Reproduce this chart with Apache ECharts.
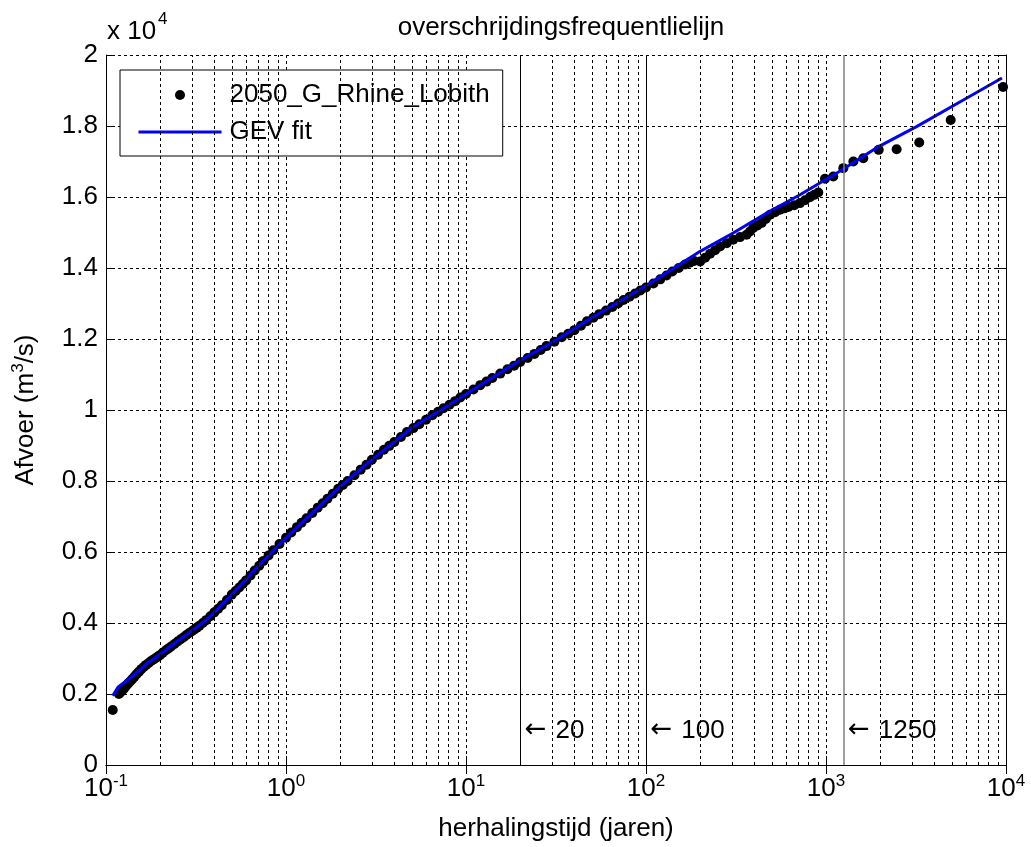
<!DOCTYPE html>
<html><head><meta charset="utf-8">
<script src="https://cdn.jsdelivr.net/npm/echarts@6/dist/echarts.min.js"></script>
<style>html,body{margin:0;padding:0;background:#fff}#c{width:1031px;height:847px}</style>
</head><body><div id="c"></div>
<script>
// ---- data ----
const obsT = [0.109,0.118,0.120,0.122,0.1245,0.127,0.130,0.133,0.1365,0.14,0.144,0.148,0.1525,0.157,0.162,0.167,0.1725,0.178,0.184,0.19,0.195,0.2,0.207,0.215,0.2225,0.23,0.24,0.25,0.26,0.27,0.28,0.29,0.30,0.31,0.32,0.33,0.345,0.36,0.38,0.4,0.42,0.44,0.47,0.5,0.525,0.55,0.575,0.6,0.635,0.67,0.71,0.75,0.80,0.85,0.92,1.0,1.07,1.15,1.22,1.3,1.4,1.5,1.6,1.7,1.82,1.95,2.07,2.2,2.4,2.6,2.8,3,3.25,3.5,3.75,4,4.35,4.7,5.1,5.5,6.0,6.5,7.0,7.5,8.1,8.7,9.3,10,11,12,13,14,15.5,17,18.5,20,22,24,26,28,31,34,37,40,43.5,47,51,55,60,65,70,75,81,87,93,100,110,120,130,140,152,165,175,185,200,213,227,242,258,281,305,333,362,378,394,416,439,463,489,521,555,586,618,666,717,765,815,860,906,987,1098,1248,1419,1612,1963,2468,3296,4929,9630];
const obsQ = [1550,2000,2040,2080,2130,2180,2240,2300,2360,2420,2490,2560,2630,2700,2760,2820,2875,2930,2975,3020,3060,3100,3165,3230,3285,3340,3410,3480,3540,3600,3660,3720,3770,3820,3870,3920,4000,4080,4190,4300,4400,4500,4650,4800,4900,5000,5100,5200,5340,5480,5615,5750,5900,6050,6225,6400,6550,6700,6825,6950,7100,7250,7375,7500,7640,7780,7890,8000,8160,8320,8460,8600,8740,8880,8990,9100,9240,9380,9490,9600,9725,9850,9950,10050,10150,10250,10350,10450,10575,10700,10800,10900,11025,11150,11250,11350,11465,11580,11690,11800,11925,12050,12150,12250,12375,12500,12600,12700,12800,12900,13000,13100,13190,13280,13365,13450,13565,13680,13790,13900,14000,14100,14150,14200,14185,14290,14402,14500,14608,14700,14796,14870,14937,15030,15125,15200,15266,15380,15500,15570,15640,15680,15716,15770,15828,15910,15997,16060,16128,16513,16578,16813,17000,17094,17328,17347,17533,18171,19100];
const fitT = [0.109,0.117,0.136,0.168,0.2,0.236,0.281,0.333,0.4,0.5,0.7,1,1.5,2,3,5,7.5,10,20,30,50,100,200,305,468,717,1250,1960,3183,5795,9500];
const fitQ = [1950,2200,2450,2850,3120,3400,3680,3950,4300,4800,5600,6400,7250,7850,8600,9500,10050,10450,11400,11900,12600,13500,14470,14985,15547,16062,16790,17420,17983,18734,19353];
const minorGrid = [0.2,0.3,0.4,0.5,0.6,0.7,0.8,0.9,2,3,4,5,6,7,8,9,20,30,40,50,60,70,80,90,200,300,400,500,600,700,800,900,2000,3000,4000,5000,6000,7000,8000,9000];
const refT = [20, 100, 1250];
const refLabels = ['20', '100', '1250'];
const refLabelQ = 965;
const seriesNames = ['2050_G_Rhine_Lobith', 'GEV fit'];

const FF = '"Liberation Sans", Arial, Helvetica, sans-serif';
const FS = 26;
const chart = echarts.init(document.getElementById('c'), null, {renderer: 'canvas'});
const supRich = {
  b: {fontSize: FS, fontFamily: FF, color: '#000'},
  s: {fontSize: 17, fontFamily: FF, color: '#000', verticalAlign: 'bottom', padding: [0, 0, 15, 0]}
};
const GRID_DASH = [3, 3];
const option = {
  animation: false,
  backgroundColor: '#fff',
  title: {
    text: 'overschrijdingsfrequentlielijn', left: 556, top: 10, textAlign: 'center',
    textStyle: {fontSize: FS, fontWeight: 'normal', color: '#000', fontFamily: FF}
  },
  legend: {
    orient: 'vertical', left: 120, top: 70, padding: [12, 13, 11, 17], itemGap: 11,
    itemWidth: 83, itemHeight: 10, borderColor: '#000', borderWidth: 1, backgroundColor: '#fff',
    borderRadius: 0,
    textStyle: {fontSize: FS, color: '#000', fontFamily: FF, padding: [0, 0, 0, 3]},
    data: [
      {name: seriesNames[0], icon: 'circle', itemStyle: {color: '#000', opacity: 1}},
      {name: seriesNames[1], itemStyle: {opacity: 0}, lineStyle: {width: 3, color: '#0000ff'}}
    ]
  },
  grid: {left: 106, right: 25, top: 55, bottom: 81},
  graphic: [
    {type: 'text', left: 107, top: 19, style: {text: 'x 10', fontSize: FS, fontFamily: FF, fill: '#000'}},
    {type: 'text', left: 158, top: 11, style: {text: '4', fontSize: 17, fontFamily: FF, fill: '#000'}}
  ],
  xAxis: [{
    type: 'log', logBase: 10, min: 0.1, max: 10000, position: 'bottom',
    axisLine: {lineStyle: {color: '#000', width: 1}},
    axisTick: {inside: true, length: 9, lineStyle: {color: '#000'}},
    axisLabel: {
      margin: 8,
      formatter: v => '{b|10}{s|' + Math.round(Math.log10(v)) + '}',
      rich: supRich
    },
    splitLine: {show: true, lineStyle: {type: GRID_DASH, color: '#000', width: 1}},
    name: 'herhalingstijd (jaren)', nameLocation: 'middle', nameGap: 51,
    nameTextStyle: {fontSize: FS, color: '#000', fontFamily: FF}
  }, {
    type: 'log', logBase: 10, min: 0.1, max: 10000, position: 'top',
    axisLine: {lineStyle: {color: '#000', width: 1}},
    axisTick: {inside: true, length: 9, lineStyle: {color: '#000'}},
    axisLabel: {show: false}, splitLine: {show: false}
  }],
  yAxis: [{
    type: 'value', min: 0, max: 20000, interval: 2000, position: 'left',
    axisLine: {show: true, lineStyle: {color: '#000', width: 1}},
    axisTick: {show: true, inside: true, length: 9, lineStyle: {color: '#000'}},
    axisLabel: {margin: 8, fontSize: FS, color: '#000', fontFamily: FF,
      formatter: v => String(+(v / 10000).toFixed(1))},
    splitLine: {show: true, lineStyle: {type: GRID_DASH, color: '#000', width: 1}},
    name: '{a|Afvoer (m}{s|3}{a|/s)}', nameLocation: 'middle', nameGap: 64, nameRotate: 90,
    nameTextStyle: {rich: {a: {fontSize: FS, fontFamily: FF, color: '#000'}, s: {fontSize: 17, fontFamily: FF, color: '#000', verticalAlign: 'bottom', padding: [0, 0, 15, 0]}}}
  }, {
    type: 'value', min: 0, max: 20000, interval: 2000, position: 'right',
    axisLine: {show: true, lineStyle: {color: '#000', width: 1}},
    axisTick: {show: true, inside: true, length: 9, lineStyle: {color: '#000'}},
    axisLabel: {show: false}, splitLine: {show: false}
  }],
  series: [{
    type: 'line', name: '_grid', data: [], z: 1, silent: true,
    markLine: {
      silent: true, symbol: ['none', 'none'], label: {show: false}, animation: false,
      lineStyle: {type: GRID_DASH, color: '#000', width: 1},
      data: minorGrid.map(v => ({xAxis: v}))
    }
  }, {
    type: 'line', name: '_ref', data: [], z: 1, silent: true,
    markLine: {
      silent: true, symbol: ['none', 'none'], label: {show: false}, animation: false,
      data: refT.map((v, i) => ({xAxis: v, lineStyle: {type: 'solid', width: i === 2 ? 1.5 : 1, color: i === 2 ? '#808080' : '#000'}}))
    }
  }, {
    type: 'scatter', name: seriesNames[0], z: 3,
    data: obsT.map((t, i) => [t, obsQ[i]]),
    symbol: 'circle', symbolSize: 10, itemStyle: {color: '#000', opacity: 1}
  }, {
    type: 'line', name: seriesNames[1], z: 4,
    data: fitT.map((t, i) => [t, fitQ[i]]),
    showSymbol: false, symbol: 'none', lineStyle: {color: '#0000ff', width: 3}, itemStyle: {color: '#0000ff'}
  }, {
    type: 'scatter', name: '_labels', z: 5, silent: true,
    data: refT.map((t, i) => [t, refLabelQ]), symbolSize: 1, itemStyle: {opacity: 0},
    label: {show: true, position: 'right', distance: 4, opacity: 1,
      formatter: p => '{a|\u2190}{b|' + refLabels[p.dataIndex] + '}',
      rich: {
        a: {fontSize: FS, fontFamily: '"DejaVu Sans", sans-serif', color: '#000', opacity: 1},
        b: {fontSize: FS, fontFamily: FF, color: '#000', padding: [0, 0, 0, 9], opacity: 1}
      }}
  }]
};
chart.setOption(option);
</script></body></html>
